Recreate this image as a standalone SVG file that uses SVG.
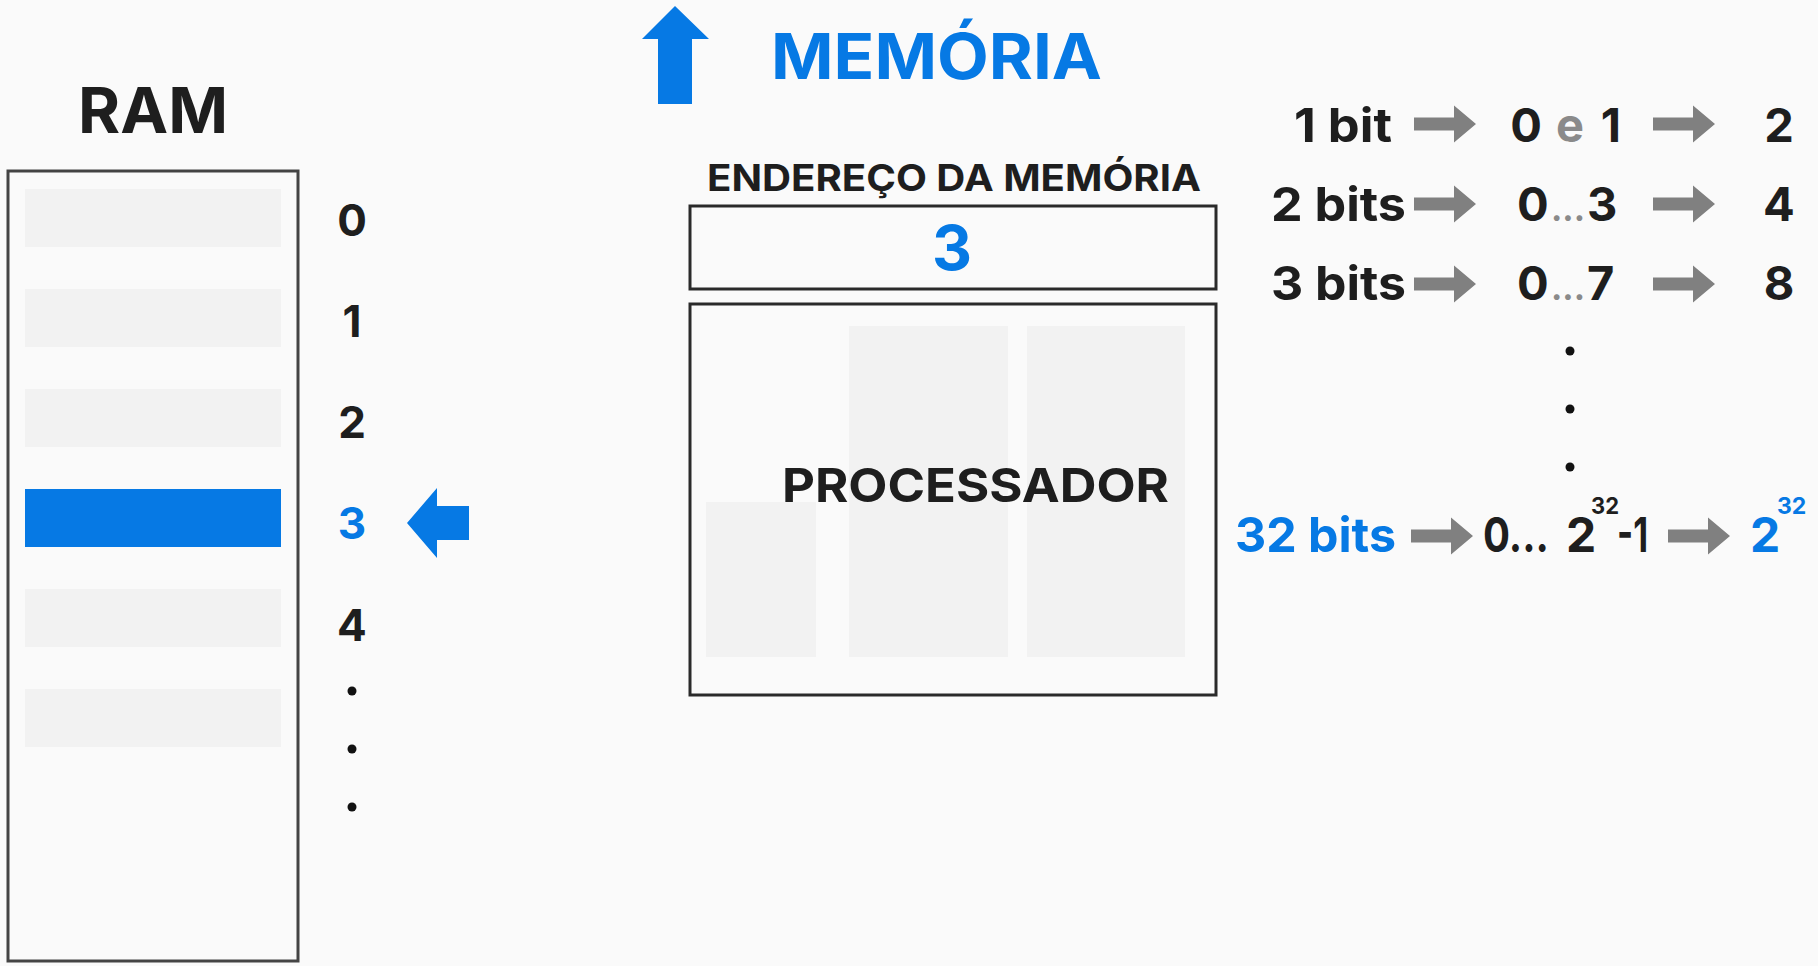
<svg xmlns="http://www.w3.org/2000/svg" xmlns:xlink="http://www.w3.org/1999/xlink" width="1818" height="966" viewBox="0 0 1818 966">
<style>
.t{font-family:Inter,"Open Sans","Liberation Sans",sans-serif;font-weight:700;fill:#1e1e1e}
.b{fill:#0679e4}
.g{fill:#8a8a8a}
.cell{fill:#f2f2f2}
.box{fill:none;stroke:#2a2a2a;stroke-width:3}
.dot{fill:#111}
</style>
<defs>
<path id="garrow" d="M0,-6.5 H40 V-18.5 L62,0 L40,18.5 V6.5 H0 Z" fill="#808080"/>
</defs>
<rect width="1818" height="966" fill="#fafafa"/>

<g id="ram">
<text class="t" x="78" y="133" font-size="63" textLength="150" lengthAdjust="spacingAndGlyphs">RAM</text>
<rect x="8" y="171" width="290" height="790" fill="none" stroke="#444" stroke-width="3"/>
<rect class="cell" x="25" y="189" width="256" height="58"/>
<rect class="cell" x="25" y="289" width="256" height="58"/>
<rect class="cell" x="25" y="389" width="256" height="58"/>
<rect class="b" x="25" y="489" width="256" height="58"/>
<rect class="cell" x="25" y="589" width="256" height="58"/>
<rect class="cell" x="25" y="689" width="256" height="58"/>
</g>

<g id="ram-index">
<text class="t" x="352" y="236" font-size="44" text-anchor="middle">0</text>
<text class="t" x="352" y="337" font-size="44" text-anchor="middle">1</text>
<text class="t" x="352" y="438" font-size="44" text-anchor="middle">2</text>
<text class="t b" x="352" y="539" font-size="44" text-anchor="middle">3</text>
<text class="t" x="352" y="641" font-size="44" text-anchor="middle">4</text>
<circle class="dot" cx="352" cy="691" r="4.5"/>
<circle class="dot" cx="352" cy="749" r="4.5"/>
<circle class="dot" cx="352" cy="807" r="4.5"/>
</g>

<g id="memoria-title">
<text class="t b" x="771" y="79" font-size="63" textLength="331" lengthAdjust="spacingAndGlyphs">MEMÓRIA</text>
</g>

<g id="endereco">
<text class="t" x="707" y="191" font-size="37" textLength="494" lengthAdjust="spacingAndGlyphs">ENDEREÇO DA MEMÓRIA</text>
<rect class="box" x="690" y="206" width="526" height="83"/>
<text class="t b" x="952" y="270" font-size="62" text-anchor="middle">3</text>
</g>

<g id="processador">
<rect class="box" x="690" y="304" width="526" height="391"/>
<rect class="cell" x="706" y="502" width="110" height="155"/>
<rect class="cell" x="849" y="326" width="159" height="331"/>
<rect class="cell" x="1027" y="326" width="158" height="331"/>
<text class="t" x="782" y="502" font-size="47" textLength="387" lengthAdjust="spacingAndGlyphs">PROCESSADOR</text>
</g>

<g id="bits-table">
<text class="t" x="1294" y="142" font-size="47" textLength="98" lengthAdjust="spacingAndGlyphs">1 bit</text>
<text class="t" x="1526" y="142" font-size="47" text-anchor="middle">0</text>
<text class="t g" x="1570" y="142" font-size="47" font-weight="600" text-anchor="middle">e</text>
<text class="t" x="1611" y="142" font-size="47" text-anchor="middle">1</text>
<text class="t" x="1779" y="142" font-size="47" text-anchor="middle">2</text>

<text class="t" x="1271" y="221" font-size="47" textLength="135" lengthAdjust="spacingAndGlyphs">2 bits</text>
<text class="t" y="221" font-size="47"><tspan x="1517">0</tspan><tspan class="g" x="1551" font-size="34">...</tspan><tspan x="1587">3</tspan></text>
<text class="t" x="1779" y="221" font-size="47" text-anchor="middle">4</text>

<text class="t" x="1271" y="300" font-size="47" textLength="135" lengthAdjust="spacingAndGlyphs">3 bits</text>
<text class="t" y="300" font-size="47"><tspan x="1517">0</tspan><tspan class="g" x="1551" font-size="34">...</tspan><tspan x="1587">7</tspan></text>
<text class="t" x="1779" y="300" font-size="47" text-anchor="middle">8</text>

<circle class="dot" cx="1570" cy="351" r="4.5"/>
<circle class="dot" cx="1570" cy="409" r="4.5"/>
<circle class="dot" cx="1570" cy="467" r="4.5"/>

<text class="t b" x="1235" y="552" font-size="48" textLength="161" lengthAdjust="spacingAndGlyphs">32 bits</text>
<text class="t" x="1483" y="552" font-size="48" textLength="66" lengthAdjust="spacingAndGlyphs">0...</text>
<text class="t" font-size="48"><tspan x="1566" y="552">2</tspan><tspan x="1591" y="514" font-size="23" textLength="28" lengthAdjust="spacingAndGlyphs">32</tspan><tspan x="1617" y="552" textLength="31" lengthAdjust="spacingAndGlyphs">-1</tspan></text>
<text class="t b" font-size="48"><tspan x="1750" y="552">2</tspan><tspan x="1777" y="514" font-size="23">32</tspan></text>
</g>

<g id="connectors">
<polygon class="b" points="675,6 709,39 692,39 692,104 658,104 658,39 642,39"/>
<polygon class="b" points="407,523 437,488 437,506 469,506 469,540 437,540 437,558"/>
<use xlink:href="#garrow" x="1414" y="124"/>
<use xlink:href="#garrow" x="1653" y="124"/>
<use xlink:href="#garrow" x="1414" y="204"/>
<use xlink:href="#garrow" x="1653" y="204"/>
<use xlink:href="#garrow" x="1414" y="284"/>
<use xlink:href="#garrow" x="1653" y="284"/>
<use xlink:href="#garrow" x="1411" y="536"/>
<use xlink:href="#garrow" x="1668" y="536"/>
</g>
</svg>
